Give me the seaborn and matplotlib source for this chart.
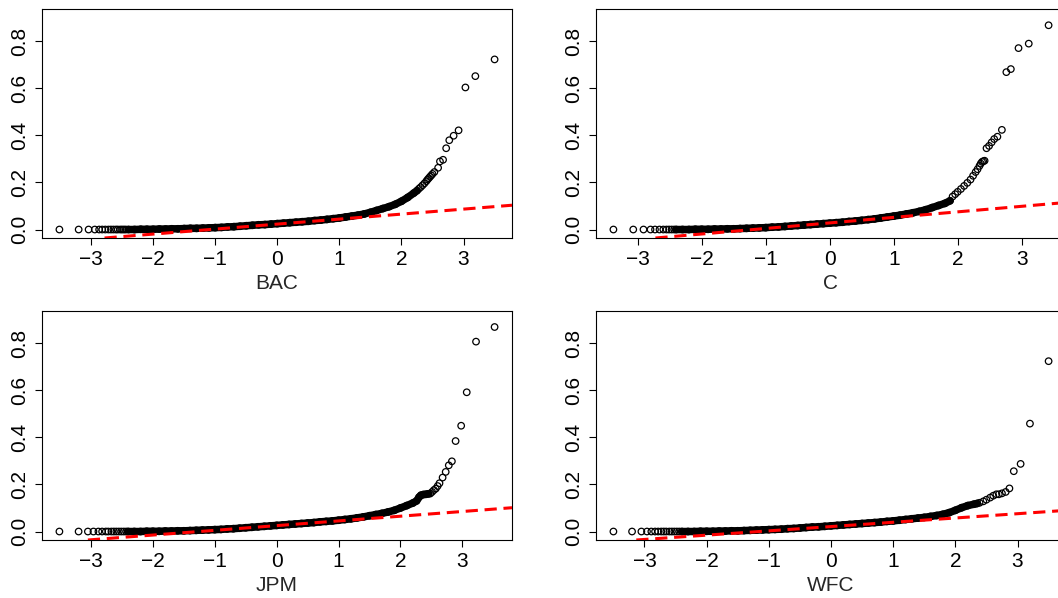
import numpy as np
import pandas as pd
import matplotlib
matplotlib.use("Agg")
import matplotlib.pyplot as plt
import seaborn as sns

# Normal QQ plots of four bank series: theoretical quantile (z) vs sample value (v).
tickers = ["BAC", "C", "JPM", "WFC"]

# --- BAC ---
bac_band_z = [-2.4, -2.3, -2.2, -2.1, -2.0, -1.9, -1.8, -1.7, -1.6, -1.5, -1.4, -1.3, -1.2, -1.1,
              -1.0, -0.9, -0.8, -0.7, -0.6, -0.5, -0.4, -0.3, -0.2, -0.1, 0.0, 0.1, 0.2, 0.3, 0.4,
              0.5, 0.6, 0.7, 0.8, 0.9, 1.0, 1.1, 1.2, 1.3, 1.4, 1.5, 1.6, 1.7, 1.8, 1.9, 2.0, 2.1,
              2.2, 2.25]
bac_band_v = [0.000, 0.000, 0.001, 0.001, 0.001, 0.002, 0.002, 0.003, 0.003, 0.004, 0.005, 0.005,
              0.006, 0.007, 0.008, 0.009, 0.011, 0.012, 0.014, 0.016, 0.018, 0.020, 0.021, 0.023,
              0.025, 0.027, 0.029, 0.031, 0.033, 0.035, 0.038, 0.040, 0.043, 0.046, 0.049, 0.053,
              0.057, 0.061, 0.066, 0.073, 0.081, 0.089, 0.097, 0.107, 0.120, 0.136, 0.155, 0.165]
bac_tail_z = [-3.51, -3.20, -3.04, -2.94, -2.87, -2.82, -2.77, -2.72, -2.68, -2.64, -2.60, -2.57,
              -2.53, -2.50, -2.47, -2.44,
              2.28, 2.31, 2.34, 2.37, 2.40, 2.42, 2.44, 2.46, 2.48, 2.50, 2.53, 2.59, 2.62, 2.67,
              2.72, 2.77, 2.84, 2.92, 3.03, 3.19, 3.50]
bac_tail_v = [0.0] * 16 + [0.173, 0.180, 0.188, 0.196, 0.205, 0.212, 0.218, 0.224, 0.230, 0.236,
                           0.244, 0.262, 0.289, 0.296, 0.345, 0.379, 0.398, 0.421, 0.603, 0.651,
                           0.722]
bac_line = (0.023, 0.0212)

# --- C ---
c_band_z = [-2.4, -2.3, -2.2, -2.1, -2.0, -1.9, -1.8, -1.7, -1.6, -1.5, -1.4, -1.3, -1.2, -1.1,
            -1.0, -0.9, -0.8, -0.7, -0.6, -0.5, -0.4, -0.3, -0.2, -0.1, 0.0, 0.1, 0.2, 0.3, 0.4,
            0.5, 0.6, 0.7, 0.8, 0.9, 1.0, 1.1, 1.2, 1.3, 1.4, 1.5, 1.6, 1.7, 1.8, 1.88]
c_band_v = [0.000, 0.000, 0.000, 0.001, 0.001, 0.001, 0.002, 0.002, 0.003, 0.003, 0.004, 0.005,
            0.006, 0.007, 0.008, 0.010, 0.011, 0.013, 0.015, 0.017, 0.019, 0.021, 0.023, 0.025,
            0.027, 0.029, 0.031, 0.034, 0.036, 0.039, 0.042, 0.045, 0.049, 0.053, 0.057, 0.061,
            0.066, 0.071, 0.077, 0.084, 0.093, 0.102, 0.111, 0.122]
c_tail_z = [-3.38, -3.07, -2.91, -2.80, -2.73, -2.66, -2.60, -2.55, -2.51, -2.47, -2.43,
            1.92, 1.96, 2.00, 2.05, 2.10, 2.15, 2.20, 2.24, 2.28, 2.31, 2.34, 2.36, 2.38, 2.40,
            2.42, 2.45, 2.49, 2.53, 2.57, 2.62, 2.69, 2.76, 2.83, 2.95, 3.11, 3.42]
c_tail_v = [0.0] * 11 + [0.140, 0.150, 0.160, 0.172, 0.185, 0.198, 0.212, 0.228, 0.244, 0.256,
                         0.270, 0.280, 0.287, 0.290, 0.292, 0.345, 0.355, 0.370, 0.384, 0.394,
                         0.423, 0.668, 0.681, 0.770, 0.789, 0.867]
c_line = (0.028, 0.0235)

# --- JPM ---
jpm_band_z = [-2.4, -2.3, -2.2, -2.1, -2.0, -1.9, -1.8, -1.7, -1.6, -1.5, -1.4, -1.3, -1.2, -1.1,
              -1.0, -0.9, -0.8, -0.7, -0.6, -0.5, -0.4, -0.3, -0.2, -0.1, 0.0, 0.1, 0.2, 0.3, 0.4,
              0.5, 0.6, 0.7, 0.8, 0.9, 1.0, 1.1, 1.2, 1.3, 1.4, 1.5, 1.6, 1.7, 1.8, 1.9, 2.0, 2.1,
              2.2, 2.26, 2.30, 2.33, 2.37, 2.41, 2.45]
jpm_band_v = [0.000, 0.000, 0.000, 0.001, 0.001, 0.001, 0.002, 0.002, 0.003, 0.003, 0.004, 0.005,
              0.006, 0.007, 0.008, 0.009, 0.011, 0.012, 0.014, 0.016, 0.018, 0.020, 0.022, 0.024,
              0.026, 0.028, 0.030, 0.032, 0.034, 0.036, 0.038, 0.041, 0.043, 0.045, 0.048, 0.051,
              0.054, 0.058, 0.062, 0.067, 0.072, 0.077, 0.083, 0.090, 0.100, 0.110, 0.121, 0.130,
              0.146, 0.154, 0.157, 0.158, 0.160]
jpm_tail_z = [-3.51, -3.20, -3.05, -2.96, -2.88, -2.82, -2.76, -2.72, -2.67, -2.63, -2.59, -2.55,
              -2.51, -2.47, -2.43,
              2.48, 2.51, 2.54, 2.57, 2.60, 2.63, 2.68, 2.73, 2.78, 2.83, 2.89, 2.98, 3.07, 3.22,
              3.52]
jpm_tail_v = [0.0] * 15 + [0.161, 0.168, 0.176, 0.182, 0.193, 0.205, 0.229, 0.253, 0.281, 0.298,
                           0.384, 0.449, 0.591, 0.806, 0.868]
jpm_line = (0.025, 0.0200)

# --- WFC ---
wfc_band_z = [-2.4, -2.3, -2.2, -2.1, -2.0, -1.9, -1.8, -1.7, -1.6, -1.5, -1.4, -1.3, -1.2, -1.1,
              -1.0, -0.9, -0.8, -0.7, -0.6, -0.5, -0.4, -0.3, -0.2, -0.1, 0.0, 0.1, 0.2, 0.3, 0.4,
              0.5, 0.6, 0.7, 0.8, 0.9, 1.0, 1.1, 1.2, 1.3, 1.4, 1.5, 1.6, 1.7, 1.8, 1.9, 2.0, 2.1,
              2.2, 2.3, 2.35]
wfc_band_v = [0.000, 0.000, 0.000, 0.001, 0.001, 0.001, 0.002, 0.002, 0.003, 0.003, 0.004, 0.005,
              0.006, 0.007, 0.008, 0.009, 0.010, 0.012, 0.013, 0.015, 0.017, 0.019, 0.020, 0.022,
              0.024, 0.026, 0.028, 0.030, 0.032, 0.034, 0.036, 0.038, 0.040, 0.043, 0.045, 0.048,
              0.051, 0.054, 0.057, 0.060, 0.064, 0.068, 0.073, 0.080, 0.090, 0.101, 0.110, 0.116,
              0.119]
wfc_tail_z = [-3.50, -3.20, -3.05, -2.96, -2.89, -2.83, -2.78, -2.73, -2.69, -2.65, -2.60, -2.56,
              -2.52, -2.48, -2.44,
              2.39, 2.45, 2.50, 2.56, 2.61, 2.66, 2.70, 2.75, 2.81, 2.87, 2.94, 3.05, 3.20, 3.50]
wfc_tail_v = [0.0] * 15 + [0.122, 0.128, 0.135, 0.144, 0.152, 0.158, 0.158, 0.162, 0.168, 0.183,
                           0.256, 0.287, 0.458, 0.723]
wfc_line = (0.021, 0.0182)

x_ticks = [-3, -2, -1, 0, 1, 2, 3]
y_ticks = [0.0, 0.2, 0.4, 0.6, 0.8]
y_range = (0.0, 0.9)

panels = {
    "BAC": (bac_band_z, bac_band_v, bac_tail_z, bac_tail_v, bac_line),
    "C": (c_band_z, c_band_v, c_tail_z, c_tail_v, c_line),
    "JPM": (jpm_band_z, jpm_band_v, jpm_tail_z, jpm_tail_v, jpm_line),
    "WFC": (wfc_band_z, wfc_band_v, wfc_tail_z, wfc_tail_v, wfc_line),
}

sns.set_theme(style="ticks", rc={
    "axes.edgecolor": "black",
    "axes.linewidth": 0.8,
    "xtick.color": "black",
    "ytick.color": "black",
    "axes.facecolor": "white",
    "figure.facecolor": "white",
})
plt.rcParams["font.family"] = ["Liberation Sans", "DejaVu Sans"]

W, H = 1058, 598
fig = plt.figure(figsize=(W / 100, H / 100), dpi=100)

# plot-region boxes in pixels: left, top, right, bottom
boxes = {
    "BAC": (42, 9, 512, 238),
    "C": (596, 9, 1066, 238),
    "JPM": (42, 311, 512, 540),
    "WFC": (596, 311, 1066, 540),
}

FS = 15


def r_range(lo, hi):
    pad = 0.04 * (hi - lo)
    return lo - pad, hi + pad


for name in tickers:
    band_z, band_v, tail_z, tail_v, (a, b) = panels[name]
    l, t, r, btm = boxes[name]
    ax = fig.add_axes([l / W, 1 - btm / H, (r - l) / W, (btm - t) / H])

    band = pd.DataFrame({"z": band_z, "v": band_v})
    pts = pd.concat([pd.DataFrame({"z": tail_z, "v": tail_v}), band], ignore_index=True)

    sns.lineplot(data=band, x="z", y="v", sort=False, estimator=None, color="black",
                 linewidth=5.4, solid_capstyle="round", ax=ax, zorder=2)
    sns.scatterplot(data=pts, x="z", y="v", marker="o", s=22, color="black",
                    facecolors="none", edgecolors="black", linewidths=0.9, ax=ax, zorder=3)
    ax.axline((0, a), slope=b, color="red", lw=2.2, ls=(0, (4.0, 2.2)), zorder=4)

    all_z = list(tail_z) + list(band_z)
    ax.set_xlim(*r_range(min(all_z), max(all_z)))
    ax.set_ylim(*r_range(*y_range))

    ax.set_xticks(x_ticks)
    ax.set_xticklabels([f"{t:d}".replace("-", "\u2212") for t in x_ticks], fontsize=FS)
    ax.set_yticks(y_ticks)
    ax.set_yticklabels([f"{t:.1f}" for t in y_ticks], fontsize=FS, rotation=90, va="center")
    ax.tick_params(axis="both", length=5, width=0.8, color="black")
    ax.tick_params(axis="x", pad=3.5)
    ax.tick_params(axis="y", pad=4)
    ax.set_xlabel(name, fontsize=FS, labelpad=4)
    ax.set_ylabel("")
    for sp in ax.spines.values():
        sp.set_visible(True)
        sp.set_color("black")
        sp.set_linewidth(0.8)

fig.savefig("out.png", dpi=100)
